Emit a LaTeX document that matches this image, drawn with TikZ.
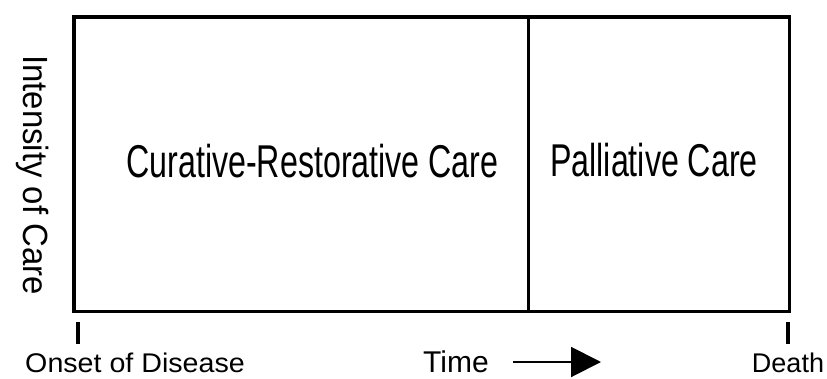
\documentclass[tikz,border=0pt]{standalone}
\usepackage{fontspec}
\setmainfont{Liberation Sans}
\newfontfamily\condfont{Liberation Sans}[FakeStretch=0.70]
\newfontfamily\sidefont{Liberation Sans}[FakeStretch=0.94]
\newfontfamily\widefont{Liberation Sans}[FakeStretch=1.06]
\usetikzlibrary{arrows.meta}
\tikzset{
  frame/.style={line width=3.8pt, line join=miter},
  divider/.style={line width=3pt},
  tick/.style={line width=4pt},
  biglabel/.style={inner sep=0pt, anchor=base, font=\condfont\fontsize{46}{50}\selectfont},
  sidelabel/.style={inner sep=0pt, rotate=-90, font=\sidefont\fontsize{35}{40}\selectfont},
  botlabel/.style={inner sep=0pt, anchor=base, font=\fontsize{27}{30}\selectfont},
  timearrow/.style={line width=2pt, -{Triangle[length=30pt,width=30pt]}}
}
\begin{document}
\begin{tikzpicture}[x=1pt,y=-1pt]
\useasboundingbox (0,0) rectangle (827,378);
% frame
\coordinate (tl) at (74,17);
\coordinate (br) at (789.5,311.5);
\coordinate (dtop) at (528.5,17);
\coordinate (dbot) at (528.5,311.5);
\draw[frame] (tl) rectangle (br);
\draw[divider] (dtop) -- (dbot);
% region labels
\node[biglabel] (cur) at (312.5,177) {Curative-Restorative Care};
\node[biglabel] (pal) at (654,176) {Palliative Care};
\node[sidelabel] (int) at (33,175) {Intensity of Care};
% ticks
\coordinate (t1a) at (78,322);
\coordinate (t1b) at (78,344);
\coordinate (t2a) at (788,322);
\coordinate (t2b) at (788,344);
\draw[tick] (t1a) -- (t1b);
\draw[tick] (t2a) -- (t2b);
% bottom labels
\node[botlabel, font=\widefont\fontsize{27}{30}\selectfont] (onset) at (135,372.5) {Onset of Disease};
\node[botlabel, anchor=base west, font=\fontsize{30}{33}\selectfont] (time) at (423,372.5) {Time};
\node[botlabel] (death) at (788,372.5) {Death};
\coordinate (arrs) at (513,362);
\coordinate (arre) at (601,362);
\draw[timearrow] (arrs) -- (arre);
\end{tikzpicture}
\end{document}
